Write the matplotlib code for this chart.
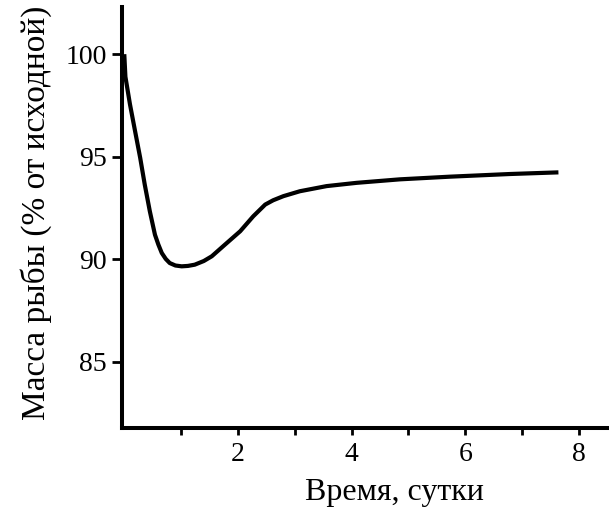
import matplotlib
matplotlib.use("Agg")
import matplotlib.pyplot as plt

# Data
time_days = [0.0, 0.02, 0.10, 0.19, 0.28, 0.36, 0.45, 0.54, 0.60, 0.66, 0.73, 0.80, 0.90, 1.01,
             1.12, 1.24, 1.40, 1.54, 1.74, 2.04, 2.27, 2.48, 2.62, 2.80, 3.09, 3.56, 4.09,
             4.85, 5.73, 6.79, 7.64]
mass_pct = [100.0, 98.9, 97.56, 96.25, 94.95, 93.65, 92.34, 91.2, 90.72, 90.31, 90.02, 89.82,
            89.7, 89.66, 89.68, 89.74, 89.92, 90.15, 90.64, 91.37, 92.1, 92.67, 92.88, 93.08,
            93.32, 93.57, 93.73, 93.9, 94.03, 94.16, 94.24]
x_major = [2, 4, 6, 8]
x_minor = [1, 3, 5, 7]
y_ticks = [85, 90, 95, 100]
x_label = "Время, сутки"
y_label = "Масса рыбы (% от исходной)"

plt.rcParams['font.family'] = ['Liberation Serif', 'DejaVu Serif']

fig = plt.figure(figsize=(6.09, 5.08), dpi=100)
ax = fig.add_axes([122/609, 1 - 428/508, 1 - 122/609, (428 - 7)/508])

ax.plot(time_days, mass_pct, color='black', lw=3.0, solid_joinstyle='round',
        solid_capstyle='butt', clip_on=False)

ax.set_xlim(-0.04, 8.53)
ax.set_ylim(81.78, 102.3)

for s in ['top', 'right']:
    ax.spines[s].set_visible(False)
for s in ['left', 'bottom']:
    ax.spines[s].set_linewidth(2.9)
    ax.spines[s].set_color('black')

ax.set_xticks(x_major)
ax.set_xticks(x_minor, minor=True)
ax.set_yticks(y_ticks)
ax.tick_params(axis='both', which='both', direction='out', width=2, colors='black',
               labelsize=20)
ax.tick_params(axis='x', which='both', length=5, pad=5)
ax.tick_params(axis='y', which='both', length=7, pad=4)

ax.set_xlabel(x_label, fontsize=23)
ax.xaxis.set_label_coords(0.5585, -0.118)
ax.set_ylabel(y_label, fontsize=24)
ax.yaxis.set_label_coords(-0.1437, 0.51)

fig.savefig("out.png", dpi=100)
